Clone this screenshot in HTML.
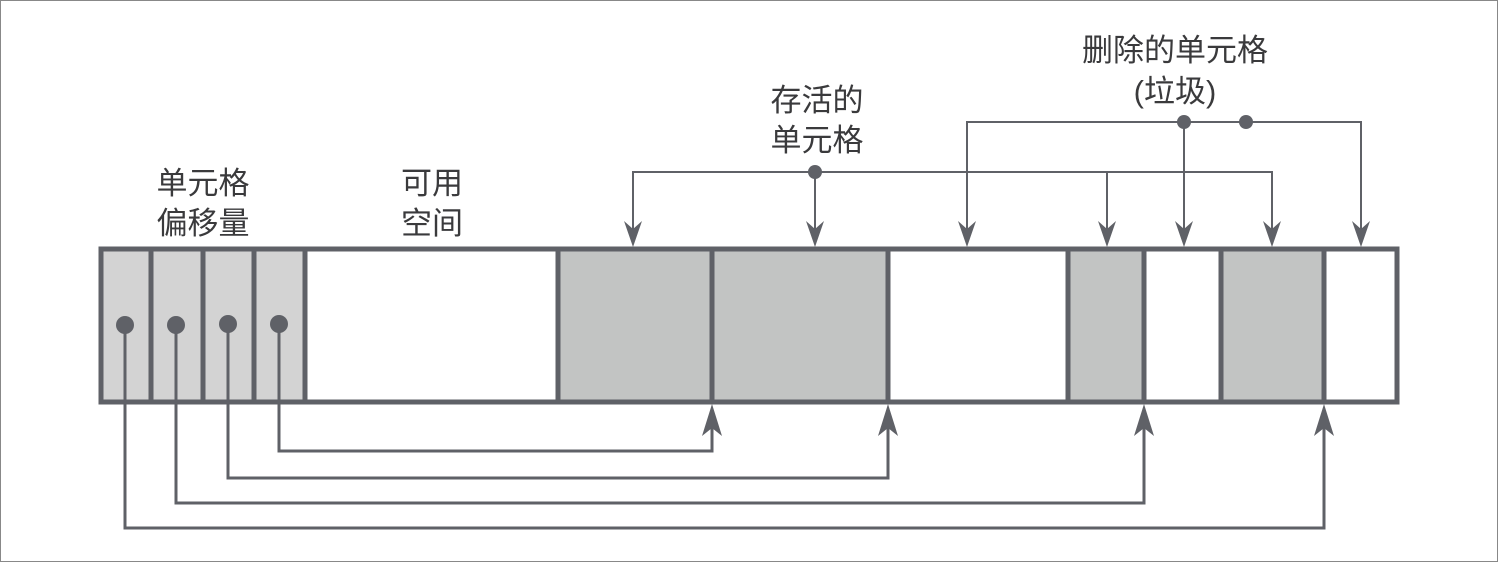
<!DOCTYPE html>
<html><head><meta charset="utf-8"><style>
html,body{margin:0;padding:0;background:#fff}
svg{display:block}
text{font-family:"Liberation Sans","Noto Sans CJK SC",sans-serif;font-size:31px;fill:#3a3a3c;text-anchor:middle}
</style></head><body>
<svg width="1498" height="562" viewBox="0 0 1498 562">
<rect x="0.5" y="0.5" width="1497" height="561" fill="#fff" stroke="#888" stroke-width="1"/>
<g stroke="#5f6167" stroke-width="5">
<rect x="101" y="249" width="204" height="153" fill="#d3d3d3"/>
<rect x="305" y="249" width="253" height="153" fill="#fff"/>
<rect x="558" y="249" width="154" height="153" fill="#c2c4c3"/>
<rect x="712" y="249" width="176" height="153" fill="#c2c4c3"/>
<rect x="888" y="249" width="180" height="153" fill="#fff"/>
<rect x="1068" y="249" width="76" height="153" fill="#c2c4c3"/>
<rect x="1144" y="249" width="77" height="153" fill="#fff"/>
<rect x="1221" y="249" width="103" height="153" fill="#c2c4c3"/>
<rect x="1324" y="249" width="73" height="153" fill="#fff"/>
<line x1="151" y1="249" x2="151" y2="402"/>
<line x1="203" y1="249" x2="203" y2="402"/>
<line x1="254" y1="249" x2="254" y2="402"/>
</g>
<g stroke="#5f6167" stroke-width="3" fill="none">
<polyline points="279,324 279,451 712,451 712,415"/>
<polyline points="228,324 228,478 888,478 888,415"/>
<polyline points="176,324 176,503 1144,503 1144,415"/>
<polyline points="125,324 125,528 1324,528 1324,415"/>
</g>
<g fill="#5f6167">
<circle cx="125" cy="325" r="9"/><circle cx="176" cy="325" r="9"/><circle cx="228" cy="324" r="9"/><circle cx="279" cy="324" r="9"/>
<path d="M712,404 l-10,32 l10,-8 l10,8z"/>
<path d="M888,404 l-10,32 l10,-8 l10,8z"/>
<path d="M1144,404 l-10,32 l10,-8 l10,8z"/>
<path d="M1324,404 l-10,32 l10,-8 l10,8z"/>
</g>
<g stroke="#5f6167" stroke-width="2" fill="none">
<polyline points="633,240 633,172 1272,172 1272,240"/>
<line x1="815" y1="172" x2="815" y2="240"/>
<line x1="1107" y1="172" x2="1107" y2="240"/>
<polyline points="967,240 967,122 1361,122 1361,240"/>
<line x1="1184" y1="122" x2="1184" y2="240"/>
</g>
<g fill="#5f6167">
<circle cx="815" cy="172" r="7"/><circle cx="1184" cy="122" r="7"/><circle cx="1246" cy="122" r="7"/>
<path d="M633,247 l-9,-26 l9,8 l9,-8z"/>
<path d="M815,247 l-9,-26 l9,8 l9,-8z"/>
<path d="M1107,247 l-9,-26 l9,8 l9,-8z"/>
<path d="M1272,247 l-9,-26 l9,8 l9,-8z"/>
<path d="M967,247 l-9,-26 l9,8 l9,-8z"/>
<path d="M1184,247 l-9,-26 l9,8 l9,-8z"/>
<path d="M1361,247 l-9,-26 l9,8 l9,-8z"/>
</g>
<text x="203" y="194">单元格</text>
<text x="203" y="234">偏移量</text>
<text x="432" y="194">可用</text>
<text x="432" y="234">空间</text>
<text x="817" y="111">存活的</text>
<text x="817" y="151">单元格</text>
<text x="1175" y="61">删除的单元格</text>
<text x="1175" y="102">(垃圾)</text>
</svg>
</body></html>
